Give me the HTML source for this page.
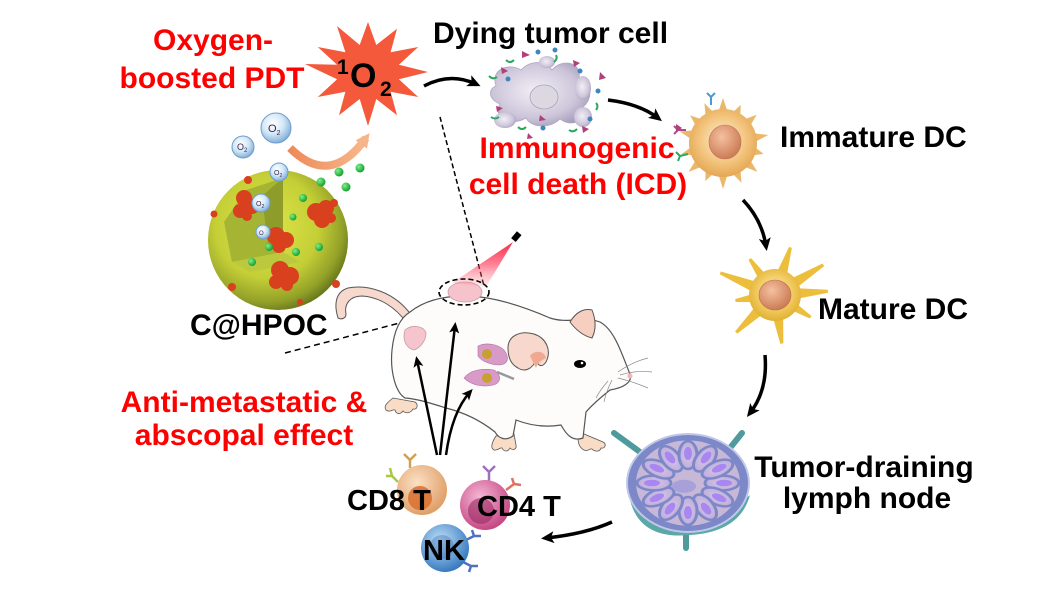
<!DOCTYPE html>
<html><head><meta charset="utf-8">
<style>
html,body{margin:0;padding:0;background:#fff;}
svg{display:block;}
text{font-family:"Liberation Sans",Arial,sans-serif;font-weight:700;}
</style></head>
<body>
<svg width="1054" height="593" viewBox="0 0 1054 593" xmlns="http://www.w3.org/2000/svg">
<defs>
  <marker id="ah" markerWidth="14" markerHeight="14" refX="8" refY="7" orient="auto" markerUnits="userSpaceOnUse">
    <path d="M0,1 L13,7 L0,13 L3,7 Z" fill="#000"/>
  </marker>
  <marker id="ahs" markerWidth="12" markerHeight="12" refX="7" refY="6" orient="auto" markerUnits="userSpaceOnUse">
    <path d="M0,1 L11,6 L0,11 L2.5,6 Z" fill="#000"/>
  </marker>
  <marker id="aho" markerWidth="16" markerHeight="16" refX="8" refY="8" orient="auto" markerUnits="userSpaceOnUse">
    <path d="M0,1 L14,8 L0,15 Z" fill="#f5b48a"/>
  </marker>
  <radialGradient id="sph" cx="0.42" cy="0.4" r="0.62">
    <stop offset="0" stop-color="#dfe64a"/>
    <stop offset="0.6" stop-color="#c4ce36"/>
    <stop offset="0.88" stop-color="#92a028"/>
    <stop offset="1" stop-color="#6a7a1c"/>
  </radialGradient>
  <radialGradient id="bub" cx="0.4" cy="0.35" r="0.7">
    <stop offset="0" stop-color="#ffffff"/>
    <stop offset="0.5" stop-color="#d4e8f8"/>
    <stop offset="1" stop-color="#78a8d6"/>
  </radialGradient>
  <radialGradient id="grn" cx="0.35" cy="0.35" r="0.7">
    <stop offset="0" stop-color="#7ef08a"/>
    <stop offset="1" stop-color="#0f9a2c"/>
  </radialGradient>
  <radialGradient id="tum" cx="0.45" cy="0.45" r="0.6">
    <stop offset="0" stop-color="#f2eff6"/>
    <stop offset="0.7" stop-color="#cdc6da"/>
    <stop offset="1" stop-color="#a99fbc"/>
  </radialGradient>
  <radialGradient id="idc" cx="0.5" cy="0.45" r="0.6">
    <stop offset="0" stop-color="#fdf2d8"/>
    <stop offset="0.6" stop-color="#f2c27a"/>
    <stop offset="1" stop-color="#e0a04a"/>
  </radialGradient>
  <radialGradient id="mdc" cx="0.5" cy="0.45" r="0.6">
    <stop offset="0" stop-color="#fdf4cc"/>
    <stop offset="0.6" stop-color="#f0c85a"/>
    <stop offset="1" stop-color="#dcaa2a"/>
  </radialGradient>
  <radialGradient id="nuc" cx="0.4" cy="0.35" r="0.7">
    <stop offset="0" stop-color="#f6c0a0"/>
    <stop offset="1" stop-color="#c87850"/>
  </radialGradient>
  <radialGradient id="cd8" cx="0.4" cy="0.35" r="0.7">
    <stop offset="0" stop-color="#fbe0c4"/>
    <stop offset="1" stop-color="#de9a62"/>
  </radialGradient>
  <radialGradient id="cd4" cx="0.4" cy="0.35" r="0.7">
    <stop offset="0" stop-color="#f6b8d6"/>
    <stop offset="1" stop-color="#c2407e"/>
  </radialGradient>
  <radialGradient id="nk" cx="0.4" cy="0.35" r="0.7">
    <stop offset="0" stop-color="#c0e0f8"/>
    <stop offset="1" stop-color="#2f74bc"/>
  </radialGradient>
  <linearGradient id="laser" x1="0" y1="0" x2="0" y2="1">
    <stop offset="0" stop-color="#ff1a3c" stop-opacity="0.95"/>
    <stop offset="0.5" stop-color="#ff3050" stop-opacity="0.6"/>
    <stop offset="1" stop-color="#ff8090" stop-opacity="0.15"/>
  </linearGradient>
  <linearGradient id="oarr" x1="0" y1="0" x2="1" y2="0">
    <stop offset="0" stop-color="#ef8a58"/>
    <stop offset="1" stop-color="#f6b88e"/>
  </linearGradient>
  <radialGradient id="lobe" cx="0.5" cy="0.5" r="0.6">
    <stop offset="0" stop-color="#d8c8e8"/>
    <stop offset="1" stop-color="#b8a8d8"/>
  </radialGradient>
</defs>

<text x="213" y="50" font-size="30" fill="#ff0000" text-anchor="middle">Oxygen-</text>
<text x="212" y="88" font-size="30" fill="#ff0000" text-anchor="middle">boosted PDT</text>

<polygon fill="#f4593b" points="428,72 398.9,79.3 418.2,97 390.6,91.8 397,115.3 376.3,99 368,126 359.7,99 339,115.3 345.4,91.8 317.8,97 337.1,79.3 305,64 337.1,64.7 317.8,47 345.4,52.2 337,26 359.7,45 368,22 376.3,45 397,28.7 390.6,52.2 418.2,47 398.9,64.7"/>
<text x="337" y="74" font-size="21" fill="#000">1</text>
<text x="350" y="87" font-size="34" fill="#000">O</text>
<text x="380" y="96" font-size="21" fill="#000">2</text>

<path d="M424,86 Q450,72 476,84" fill="none" stroke="#000" stroke-width="3.5" marker-end="url(#ah)"/>

<line x1="440" y1="117" x2="484" y2="286" stroke="#000" stroke-width="1.5" stroke-dasharray="5,3"/>
<line x1="285" y1="353" x2="476" y2="303" stroke="#000" stroke-width="1.5" stroke-dasharray="6,4"/>

<!-- Nanoparticle -->
<circle cx="278" cy="240" r="70" fill="url(#sph)"/>
<polygon points="283,178 283,252 232,262 224,222 246,190" fill="#a6b434"/>
<polygon points="283,178 283,252 268,246 262,196" fill="#8e9c2a"/>
<polygon points="232,262 283,252 300,262 250,272" fill="#bcc83e"/>
<g fill="#d8401e">
  <circle cx="244" cy="198" r="8"/><circle cx="252" cy="206" r="8"/><circle cx="240" cy="211" r="7"/><circle cx="247" cy="216" r="5"/>
  <circle cx="316" cy="212" r="9"/><circle cx="326" cy="208" r="8"/><circle cx="322" cy="220" r="8"/><circle cx="331" cy="218" r="5"/>
  <circle cx="276" cy="236" r="9"/><circle cx="286" cy="240" r="8"/><circle cx="279" cy="246" r="7"/>
  <circle cx="280" cy="270" r="9"/><circle cx="290" cy="276" r="9"/><circle cx="276" cy="282" r="7"/><circle cx="287" cy="285" r="6"/>
  <circle cx="232" cy="287" r="4"/><circle cx="336" cy="284" r="4"/><circle cx="214" cy="214" r="3.5"/>
  <circle cx="334" cy="203" r="4"/><circle cx="248" cy="180" r="4"/><circle cx="300" cy="302" r="3"/>
</g>
<g fill="url(#grn)">
  <circle cx="303" cy="198" r="4"/>
  <circle cx="293" cy="217" r="3.5"/>
  <circle cx="269" cy="247" r="4"/>
  <circle cx="296" cy="252" r="4"/>
  <circle cx="252" cy="262" r="4"/>
  <circle cx="319" cy="247" r="4"/>
  <circle cx="321" cy="182" r="4.5"/>
  <circle cx="339" cy="172" r="4.5"/>
  <circle cx="360" cy="168" r="4.5"/>
  <circle cx="346" cy="187" r="4.5"/>
</g>
<g font-size="9" fill="#3a2a4a" font-weight="400">
  <circle cx="276" cy="128" r="15" fill="url(#bub)" stroke="#6e9ccc" stroke-width="1"/>
  <text x="268" y="132" font-size="11" style="font-weight:400">O<tspan font-size="7" dy="3">2</tspan></text>
  <circle cx="243" cy="147" r="11" fill="url(#bub)" stroke="#6e9ccc" stroke-width="1"/>
  <text x="237" y="150" style="font-weight:400">O<tspan font-size="6" dy="2">2</tspan></text>
  <circle cx="279" cy="172" r="9" fill="url(#bub)" stroke="#6e9ccc" stroke-width="1"/>
  <text x="274" y="175" font-size="7" style="font-weight:400">O<tspan font-size="5" dy="2">2</tspan></text>
  <circle cx="261" cy="203" r="9" fill="url(#bub)" stroke="#6e9ccc" stroke-width="1"/>
  <text x="256" y="206" font-size="7" style="font-weight:400">O<tspan font-size="5" dy="2">2</tspan></text>
  <circle cx="263" cy="232" r="7" fill="url(#bub)" stroke="#6e9ccc" stroke-width="1"/>
  <text x="259" y="235" font-size="6" style="font-weight:400">O</text>
</g>
<path d="M290,148 Q330,188 366,138" fill="none" stroke="url(#oarr)" stroke-width="8" marker-end="url(#aho)"/>

<text x="190" y="335" font-size="30" fill="#000">C@HPOC</text>

<!-- Dying tumor cell -->
<text x="433" y="43" font-size="30" fill="#000">Dying tumor cell</text>
<g>
  <path d="M496,86 C490,70 508,62 521,70 C530,60 546,60 552,70 C562,58 582,62 579,78 C594,84 592,100 583,107 C589,121 571,128 560,119 C550,129 531,128 526,118 C511,127 492,118 500,104 C488,99 488,89 496,86 Z" fill="url(#tum)" stroke="#b0a8c2" stroke-width="0.8"/>
  <ellipse cx="547" cy="62" rx="8" ry="6" fill="url(#tum)"/>
  <ellipse cx="505" cy="120" rx="11" ry="8" fill="url(#tum)"/>
  <ellipse cx="583" cy="117" rx="9" ry="10" fill="url(#tum)"/>
  <ellipse cx="583" cy="88" rx="8" ry="12" fill="url(#tum)"/>
  <ellipse cx="544" cy="97" rx="14" ry="12" fill="#dcd8e2" stroke="#aaa3b8" stroke-width="0.8"/>
  <g fill="#3e86c0">
    <circle cx="538" cy="52" r="2.5"/><circle cx="555" cy="50" r="2.5"/><circle cx="508" cy="79" r="2.5"/>
    <circle cx="580" cy="71" r="2.5"/><circle cx="598" cy="91" r="2.5"/><circle cx="590" cy="119" r="2.5"/>
    <circle cx="543" cy="128" r="2.5"/>
  </g>
  <g fill="#b0407a">
    <polygon points="522,51 530,55 522,58"/><polygon points="573,60 580,63 574,67"/><polygon points="501,67 508,71 502,74"/>
    <polygon points="600,72 606,78 599,80"/><polygon points="496,106 503,108 497,112"/><polygon points="540,115 546,120 539,121"/>
    <polygon points="582,126 589,129 583,133"/><polygon points="528,133 533,138 527,139"/>
  </g>
  <g fill="none" stroke="#2aa860" stroke-width="2">
    <path d="M506,60 q4,4 8,0"/><path d="M554,62 q4,-3 2,-7"/><path d="M489,76 q4,4 8,1"/>
    <path d="M491,117 q4,3 8,0"/><path d="M518,127 q4,4 8,0"/><path d="M569,130 q4,3 8,-1"/>
    <path d="M596,110 q3,-4 0,-7"/>
  </g>
</g>
<path d="M608,100 Q640,104 658,118" fill="none" stroke="#000" stroke-width="3.5" marker-end="url(#ah)"/>

<text x="577" y="158" font-size="30" fill="#ff0000" text-anchor="middle">Immunogenic</text>
<text x="578" y="194" font-size="30" fill="#ff0000" text-anchor="middle">cell death (ICD)</text>

<!-- Immature DC -->
<g transform="translate(723,143)" fill="#eab86a">
  <polygon points="-5,-30 5,-30 0,-45" transform="rotate(0)"/>
  <polygon points="-5,-30 5,-30 0,-42" transform="rotate(25)"/>
  <polygon points="-5,-30 5,-30 0,-44" transform="rotate(50)"/>
  <polygon points="-5,-30 5,-30 0,-46" transform="rotate(80)"/>
  <polygon points="-5,-30 5,-30 0,-42" transform="rotate(105)"/>
  <polygon points="-5,-30 5,-30 0,-45" transform="rotate(130)"/>
  <polygon points="-5,-30 5,-30 0,-44" transform="rotate(155)"/>
  <polygon points="-5,-30 5,-30 0,-46" transform="rotate(180)"/>
  <polygon points="-5,-30 5,-30 0,-42" transform="rotate(205)"/>
  <polygon points="-5,-30 5,-30 0,-45" transform="rotate(230)"/>
  <polygon points="-5,-30 5,-30 0,-43" transform="rotate(255)"/>
  <polygon points="-5,-30 5,-30 0,-45" transform="rotate(285)"/>
  <polygon points="-5,-30 5,-30 0,-43" transform="rotate(310)"/>
  <polygon points="-5,-30 5,-30 0,-44" transform="rotate(335)"/>
  <circle cx="0" cy="0" r="34" fill="url(#idc)"/>
  <ellipse cx="2" cy="-1" rx="16" ry="17" fill="url(#nuc)" stroke="#b87050" stroke-width="0.6"/>
</g>
<g fill="none" stroke-width="2">
  <path d="M711,97 l0,8 M707,93 l4,4 l4,-4" stroke="#4a9ad0"/>
  <path d="M678,130 l8,0 M674,126 l4,4 l-4,4" stroke="#b04a8a"/>
  <path d="M680,156 l8,-2 M676,152 l4,4 l-2,5" stroke="#2aa860"/>
</g>
<polygon points="676,124 682,128 676,132" fill="#b0407a"/>

<text x="780" y="147" font-size="30" fill="#000">Immature DC</text>

<path d="M743,200 Q762,220 766,246" fill="none" stroke="#000" stroke-width="3.5" marker-end="url(#ah)"/>

<!-- Mature DC -->
<g transform="translate(775,295)" fill="#ecbe3c">
  <polygon points="-6,-16 6,-16 1.5,-59 -1.5,-59" transform="rotate(-68)"/>
  <polygon points="-5,-16 5,-16 1.5,-44 -1.5,-44" transform="rotate(-35)"/>
  <polygon points="-6,-16 6,-16 1.5,-50 -1.5,-50" transform="rotate(18)"/>
  <polygon points="-6,-16 6,-16 1.5,-57 -1.5,-57" transform="rotate(58)"/>
  <polygon points="-6,-16 6,-16 1.5,-53 -1.5,-53" transform="rotate(86)"/>
  <polygon points="-5,-16 5,-16 1.5,-42 -1.5,-42" transform="rotate(122)"/>
  <polygon points="-6,-16 6,-16 1.5,-49 -1.5,-49" transform="rotate(172)"/>
  <polygon points="-6,-16 6,-16 1.5,-54 -1.5,-54" transform="rotate(226)"/>
  <polygon points="-5,-16 5,-16 1.5,-40 -1.5,-40" transform="rotate(262)"/>
  <circle cx="0" cy="0" r="26" fill="url(#mdc)"/>
  <ellipse cx="0" cy="0" rx="16" ry="15" fill="url(#nuc)" stroke="#b87050" stroke-width="0.6"/>
</g>
<text x="818" y="319" font-size="30" fill="#000">Mature DC</text>

<path d="M765,355 Q768,390 750,413" fill="none" stroke="#000" stroke-width="3.5" marker-end="url(#ah)"/>

<!-- Lymph node -->
<g stroke="#4f9a9c" stroke-width="6" stroke-linecap="round">
  <line x1="614" y1="433" x2="640" y2="452"/>
  <line x1="742" y1="433" x2="730" y2="448"/>
  <line x1="686" y1="528" x2="686" y2="548"/>
</g>
<path d="M630,500 Q640,540 690,535 Q740,532 750,495 Q720,520 690,522 Q650,522 630,500 Z" fill="#5aa8a8"/>
<ellipse cx="688" cy="483" rx="61" ry="49" fill="#7d88c8" stroke="#c0c8e8" stroke-width="2"/>
<g transform="translate(688,483) scale(1,0.82)">
  <circle cx="0" cy="0" r="52" fill="#c8b8d8"/>
  <g fill="url(#lobe)" stroke="#7d88c8" stroke-width="3">
    <ellipse cx="34" cy="0" rx="17" ry="9" transform="rotate(0)"/>
    <ellipse cx="34" cy="0" rx="17" ry="9" transform="rotate(30)"/>
    <ellipse cx="34" cy="0" rx="17" ry="9" transform="rotate(60)"/>
    <ellipse cx="34" cy="0" rx="17" ry="9" transform="rotate(90)"/>
    <ellipse cx="34" cy="0" rx="17" ry="9" transform="rotate(120)"/>
    <ellipse cx="34" cy="0" rx="17" ry="9" transform="rotate(150)"/>
    <ellipse cx="34" cy="0" rx="17" ry="9" transform="rotate(180)"/>
    <ellipse cx="34" cy="0" rx="17" ry="9" transform="rotate(210)"/>
    <ellipse cx="34" cy="0" rx="17" ry="9" transform="rotate(240)"/>
    <ellipse cx="34" cy="0" rx="17" ry="9" transform="rotate(270)"/>
    <ellipse cx="34" cy="0" rx="17" ry="9" transform="rotate(300)"/>
    <ellipse cx="34" cy="0" rx="17" ry="9" transform="rotate(330)"/>
  </g>
  <g fill="#a888f0">
    <ellipse cx="36" cy="0" rx="8" ry="4" transform="rotate(0)"/>
    <ellipse cx="36" cy="0" rx="8" ry="4" transform="rotate(30)"/>
    <ellipse cx="36" cy="0" rx="8" ry="4" transform="rotate(60)"/>
    <ellipse cx="36" cy="0" rx="8" ry="4" transform="rotate(90)"/>
    <ellipse cx="36" cy="0" rx="8" ry="4" transform="rotate(120)"/>
    <ellipse cx="36" cy="0" rx="8" ry="4" transform="rotate(150)"/>
    <ellipse cx="36" cy="0" rx="8" ry="4" transform="rotate(180)"/>
    <ellipse cx="36" cy="0" rx="8" ry="4" transform="rotate(210)"/>
    <ellipse cx="36" cy="0" rx="8" ry="4" transform="rotate(240)"/>
    <ellipse cx="36" cy="0" rx="8" ry="4" transform="rotate(270)"/>
    <ellipse cx="36" cy="0" rx="8" ry="4" transform="rotate(300)"/>
    <ellipse cx="36" cy="0" rx="8" ry="4" transform="rotate(330)"/>
  </g>
  <ellipse cx="-4" cy="4" rx="12" ry="8" fill="#a8a0d8"/>
</g>
<text x="864" y="477" font-size="30" fill="#000" text-anchor="middle">Tumor-draining</text>
<text x="867" y="508" font-size="30" fill="#000" text-anchor="middle">lymph node</text>

<path d="M612,522 Q585,534 546,538" fill="none" stroke="#000" stroke-width="3.5" marker-end="url(#ah)"/>

<!-- Mouse -->
<path d="M412,316 C395,292 368,284 348,288 C335,292 334,305 338,318 C342,320 346,318 346,314 C344,304 350,296 362,296 C380,297 396,308 406,322 Z" fill="#f7d8cc" stroke="#555" stroke-width="1"/>
<g fill="#f8dcc6" stroke="#555" stroke-width="0.8">
  <path d="M393,398 C388,402 383,406 386,410 C390,413 392,409 395,410 C396,414 400,415 403,411 C406,414 411,413 413,409 C417,410 419,405 415,402 Z"/>
  <path d="M496,436 C492,442 490,448 494,450 C498,451 500,447 502,448 C504,452 508,452 510,448 C513,451 517,449 516,445 L514,434 Z"/>
  <path d="M578,438 C578,444 580,448 584,450 C588,452 590,448 592,449 C595,452 600,452 601,448 C605,449 607,444 603,442 L584,434 Z"/>
</g>
<path d="M410,312 C425,300 445,296 465,296 C490,296 520,305 550,318 C568,324 584,316 600,322 C615,330 622,355 630,374 C633,383 622,388 610,390 C600,398 592,405 586,412 L583,438 C572,442 566,434 561,425 C542,428 526,424 516,420 L513,436 C506,441 499,439 495,432 C480,420 462,412 446,408 C430,403 418,399 405,398 C395,392 390,370 392,350 C394,330 400,318 410,312 Z" fill="#fdfcfb" stroke="#555" stroke-width="1.2"/>
<ellipse cx="465" cy="292" rx="17" ry="10" fill="#f6c2cc" stroke="#c89aa4" stroke-width="0.8"/>
<path d="M405,330 C412,324 424,326 426,333 C426,341 420,348 414,350 C406,348 402,340 405,330 Z" fill="#f6c4cc" stroke="#c89aa4" stroke-width="0.8"/>
<polygon points="513,242 452,283 486,287" fill="url(#laser)"/>
<rect x="512" y="234" width="9" height="6" fill="#000" transform="rotate(-50 516 237)"/>
<ellipse cx="464" cy="292" rx="25" ry="13" fill="none" stroke="#000" stroke-width="1.6" stroke-dasharray="5,3"/>
<path d="M508,348 C508,336 520,330 534,334 C546,338 552,350 546,362 C542,368 538,366 536,360 C532,370 524,372 518,368 C510,364 508,356 508,348 Z" fill="#f8d8cc" stroke="#555" stroke-width="1"/>
<path d="M530,356 C534,350 544,350 546,358 C542,360 538,362 536,368 Z" fill="#f0a890"/>
<path d="M570,322 C576,312 584,308 592,310 C596,320 596,330 592,338 C584,336 576,330 570,322 Z" fill="#f7cfc0" stroke="#555" stroke-width="1"/>
<ellipse cx="580" cy="364" rx="6" ry="4" fill="#000"/>
<circle cx="582" cy="363" r="1.3" fill="#fff"/>
<circle cx="630" cy="376" r="2.5" fill="#f4b4b4"/>
<g stroke="#888" stroke-width="0.7" fill="none">
  <path d="M618,372 Q632,362 648,358"/><path d="M620,375 Q636,370 652,372"/>
  <path d="M618,378 Q634,382 648,388"/><path d="M612,380 Q606,392 604,402"/>
  <path d="M608,381 Q600,390 596,398"/>
</g>
<path d="M478,346 C486,342 498,344 504,350 C510,358 508,364 500,365 C492,365 482,362 478,356 Z" fill="#d89ac6" stroke="#b070a0" stroke-width="0.6"/>
<path d="M464,378 C470,370 482,368 494,370 C500,374 502,380 496,384 C486,388 472,386 464,378 Z" fill="#d89ac6" stroke="#b070a0" stroke-width="0.6"/>
<line x1="497" y1="372" x2="514" y2="379" stroke="#999" stroke-width="2.5"/>
<circle cx="487" cy="354" r="5" fill="#c8a030"/>
<circle cx="487" cy="378" r="5" fill="#c8a030"/>

<path d="M437,455 L417,360" fill="none" stroke="#000" stroke-width="2.5" marker-end="url(#ahs)"/>
<path d="M440,455 L455,326" fill="none" stroke="#000" stroke-width="2.5" marker-end="url(#ahs)"/>
<path d="M446,455 Q452,412 470,392" fill="none" stroke="#000" stroke-width="2.5" marker-end="url(#ahs)"/>

<text x="244" y="412" font-size="30" fill="#ff0000" text-anchor="middle">Anti-metastatic &amp;</text>
<text x="244" y="445" font-size="30" fill="#ff0000" text-anchor="middle">abscopal effect</text>

<!-- Immune cells -->
<g fill="none" stroke-width="2.5">
  <path d="M410,468 l0,-8 M404,454 l6,6 l6,-6" stroke="#d4a050"/>
  <path d="M398,482 l-6,-6 M386,476 l6,0 l-2,-8" stroke="#a8c840"/>
  <path d="M489,482 l0,-10 M483,466 l6,6 l6,-6" stroke="#a070c0"/>
  <path d="M506,490 l8,-6 M512,478 l2,6 l7,1" stroke="#e07060"/>
  <path d="M466,540 l8,-4 M472,530 l2,6 l7,0" stroke="#5070c0"/>
  <path d="M463,562 l8,4 M469,572 l2,-6 l7,0" stroke="#5070c0"/>
</g>
<circle cx="422" cy="490" r="25" fill="url(#cd8)"/>
<circle cx="420" cy="498" r="12" fill="#d8702e" opacity="0.85"/>
<circle cx="485" cy="505" r="25" fill="url(#cd4)"/>
<circle cx="481" cy="511" r="13" fill="#9a2a64" opacity="0.6"/>
<circle cx="445" cy="548" r="24" fill="url(#nk)"/>
<circle cx="442" cy="547" r="12" fill="#2a64a8" opacity="0.35"/>

<text x="347" y="510" font-size="29" fill="#000">CD8 T</text>
<text x="477" y="516" font-size="29" fill="#000">CD4 T</text>
<text x="423" y="560" font-size="29" fill="#000">NK</text>
</svg>
</body></html>
